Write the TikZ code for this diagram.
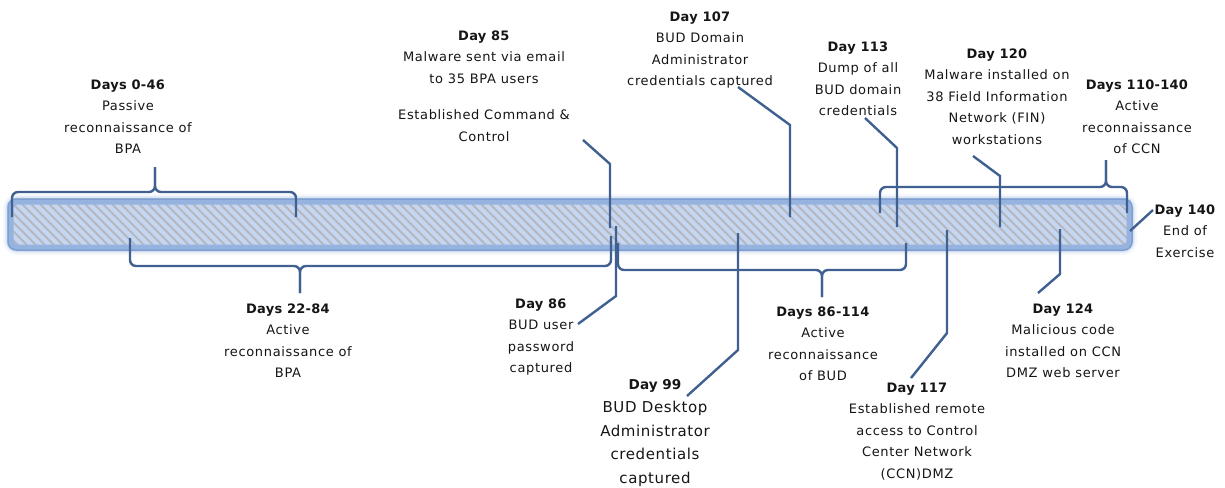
\documentclass[tikz,border=0pt]{standalone}
\usepackage{fontspec}
\newfontfamily\lblfont[LetterSpace=5,BoldFeatures={LetterSpace=2}]{DejaVu Sans}
\newfontfamily\bigfont[LetterSpace=4,BoldFeatures={LetterSpace=0}]{DejaVu Sans}
\definecolor{linec}{HTML}{3F6090}
\definecolor{barfill}{HTML}{C4D6F2}
\definecolor{barline}{HTML}{96B3DF}
\definecolor{baredge}{HTML}{7F9FD0}
\definecolor{hatchc}{HTML}{B6B8BE}
\definecolor{txt}{HTML}{151515}
\tikzset{
  conn/.style={draw=linec, line width=2.4pt},
  bracket/.style={draw=linec, line width=2.4pt, rounded corners=6pt},
  lbl/.style={align=center, inner sep=0pt, anchor=north, text=txt,
    font=\lblfont\fontsize{13}{21.5}\selectfont},
  biglbl/.style={lbl, font=\bigfont\fontsize{15}{23.5}\selectfont},
}
\begin{document}
\begin{tikzpicture}[x=1pt,y=-1pt]
\useasboundingbox (0,0) rectangle (1225,487);

% timeline bar: soft glow, hatched body, border
\foreach \w/\o in {15/0.10, 11/0.18, 8/0.30}
  \draw[barline, line width=\w pt, opacity=\o, rounded corners=7pt]
    (10.5,201.5) rectangle (1129.5,247.5);
\fill[barfill, rounded corners=5pt] (12,203) rectangle (1128,246);
\begin{scope}
  \clip[rounded corners=4pt] (13,204) rectangle (1127,245);
  \foreach \x in {-50,-41,...,1130}
    \draw[hatchc, line width=2pt] (\x,204) -- (\x+41,245);
\end{scope}
\draw[barline, line width=6pt, rounded corners=7pt]
  (10.5,201.5) rectangle (1129.5,247.5);
\draw[baredge, line width=1.5pt, rounded corners=8pt]
  (8,199) rectangle (1132,250);

% braces spanning day ranges
\draw[bracket] (12,217) -- (12,192) -- (155,192) -- (155,167);
\draw[bracket] (296,217) -- (296,192) -- (155,192) -- (155,167);
\draw[bracket] (130,238) -- (130,266) -- (300,266) -- (300,293);
\draw[bracket] (611,236) -- (611,266) -- (300,266) -- (300,293);
\draw[bracket] (618,243) -- (618,270) -- (822,270) -- (822,297);
\draw[bracket] (906,243) -- (906,270) -- (822,270) -- (822,297);
\draw[bracket] (880,213) -- (880,187) -- (1106,187) -- (1106,160);
\draw[bracket] (1127,213) -- (1127,187) -- (1106,187) -- (1106,160);

% event labels
\node[lbl] (n046) at (128,79.5) {\textbf{Days 0-46}\\Passive\\reconnaissance of\\BPA};
\node[lbl] (n85) at (484,30.5) {\textbf{Day 85}\\Malware sent via email\\to 35 BPA users\\[15pt]Established Command \&\\Control};
\node[lbl] (n107) at (700,11.5) {\textbf{Day 107}\\BUD Domain\\Administrator\\credentials captured};
\node[lbl] (n113) at (858,41.5) {\textbf{Day 113}\\Dump of all\\BUD domain\\credentials};
\node[lbl] (n120) at (997,48.5) {\textbf{Day 120}\\Malware installed on\\38 Field Information\\Network (FIN)\\workstations};
\node[lbl] (n110) at (1137,79.5) {\textbf{Days 110-140}\\Active\\reconnaissance\\of CCN};
\node[lbl] (n140) at (1185,204.5) {\textbf{Day 140}\\End of\\Exercise};
\node[lbl] (n124) at (1063,303.5) {\textbf{Day 124}\\Malicious code\\installed on CCN\\DMZ web server};
\node[lbl] (n117) at (917,382.5) {\textbf{Day 117}\\Established remote\\access to Control\\Center Network\\(CCN)DMZ};
\node[lbl] (n86114) at (823,306.5) {\textbf{Days 86-114}\\Active\\reconnaissance\\of BUD};
\node[biglbl] (n99) at (655,379) {{\fontsize{13.6}{23.5}\selectfont\bfseries Day 99}\\BUD Desktop\\Administrator\\credentials\\captured};
\node[lbl] (n2284) at (288,303.5) {\textbf{Days 22-84}\\Active\\reconnaissance of\\BPA};
\node[lbl] (n86) at (541,298.5) {\textbf{Day 86}\\BUD user\\password\\captured};

% connector end points
\coordinate (t85) at (583,140);  \coordinate (k85) at (610,164);  \coordinate (b85) at (610,228);
\coordinate (t86) at (578,324);  \coordinate (k86) at (616,296);  \coordinate (b86) at (616,226);
\coordinate (t107) at (738,87);  \coordinate (k107) at (790,125); \coordinate (b107) at (790,217);
\coordinate (t99) at (687,396);  \coordinate (k99) at (738,350);  \coordinate (b99) at (738,233);
\coordinate (t113) at (865,118); \coordinate (k113) at (897,148); \coordinate (b113) at (897,227);
\coordinate (t120) at (973,156); \coordinate (k120) at (1000,176); \coordinate (b120) at (1000,227);
\coordinate (t117) at (911,378); \coordinate (k117) at (947,333); \coordinate (b117) at (947,230);
\coordinate (t124) at (1038,293); \coordinate (k124) at (1060,274); \coordinate (b124) at (1060,229);
\coordinate (t140) at (1153,210); \coordinate (b140) at (1130,231);

% connectors from labels to the timeline
\draw[conn] (t85) -- (k85) -- (b85);
\draw[conn] (t86) -- (k86) -- (b86);
\draw[conn] (t107) -- (k107) -- (b107);
\draw[conn] (t99) -- (k99) -- (b99);
\draw[conn] (t113) -- (k113) -- (b113);
\draw[conn] (t120) -- (k120) -- (b120);
\draw[conn] (t117) -- (k117) -- (b117);
\draw[conn] (t124) -- (k124) -- (b124);
\draw[conn] (t140) -- (b140);
\end{tikzpicture}
\end{document}
